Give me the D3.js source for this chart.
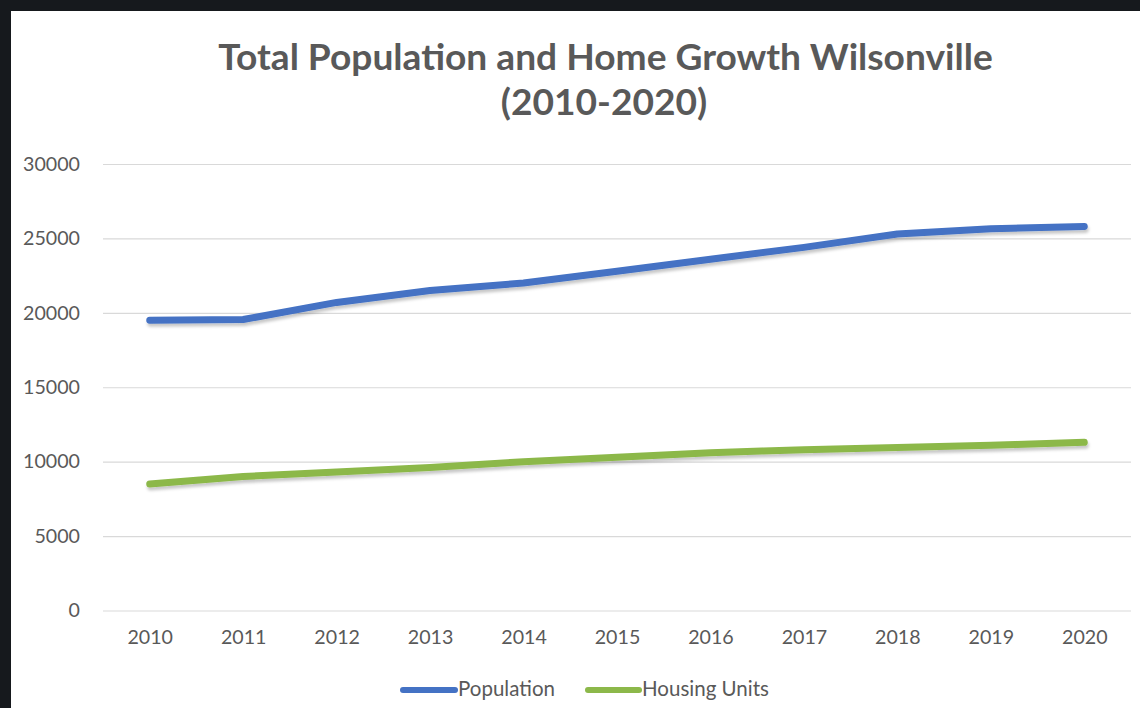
<!DOCTYPE html>
<html>
<head>
<meta charset="utf-8">
<script src="https://cdn.jsdelivr.net/npm/d3@7"></script>
<style>
  html, body { margin: 0; padding: 0; background: #16191d; }
  svg { display: block; }
</style>
</head>
<body>
<svg id="chart" width="1140" height="708"></svg>
<script>
// Wilsonville totals by year
const years = ["2010","2011","2012","2013","2014","2015","2016","2017","2018","2019","2020"];
const population = [19500, 19550, 20700, 21500, 22000, 22800, 23600, 24400, 25300, 25650, 25800];
const housingUnits = [8500, 9000, 9300, 9600, 10000, 10300, 10600, 10800, 10950, 11100, 11300];
const yTicks = [0, 5000, 10000, 15000, 20000, 25000, 30000];
const titleLines = ["Total Population and Home Growth Wilsonville", "(2010-2020)"];
const seriesNames = ["Population", "Housing Units"];

const W = 1140, H = 708;
const FONT = "Lato, 'Open Sans', sans-serif";
const TEXT = "#595959";
const BLUE = "#4472c4";
const GREEN = "#8cb84a";

const svg = d3.select("#chart");

// shadow under the series lines
const defs = svg.append("defs");
const f = defs.append("filter").attr("id", "shadow")
  .attr("x", "-5%").attr("y", "-50%").attr("width", "110%").attr("height", "200%");
f.append("feDropShadow").attr("dx", 1).attr("dy", 3).attr("stdDeviation", 1.6)
  .attr("flood-color", "#000").attr("flood-opacity", 0.22);

// dark surround and white chart panel
svg.append("rect").attr("width", W).attr("height", H).attr("fill", "#16191d");
svg.append("rect").attr("x", 11).attr("y", 11).attr("width", W - 11).attr("height", H - 11).attr("fill", "#ffffff");

// size a text element so that it spans the given width
function fitText(sel, target) {
  sel.attr("font-size", 100);
  const len = sel.node().getComputedTextLength();
  sel.attr("font-size", 100 * target / len);
  return 100 * target / len;
}

const plot = { left: 103, right: 1131, top: 164, bottom: 610.5 };

const x = d3.scalePoint().domain(years).range([plot.left, plot.right]).padding(0.5);
const y = d3.scaleLinear().domain([0, 30000]).range([plot.bottom, plot.top]);

// title
const t1 = svg.append("text").attr("x", 605.5).attr("y", 69.5).attr("text-anchor", "middle")
  .attr("font-family", FONT).attr("font-weight", 700).attr("fill", TEXT).text(titleLines[0]);
const tSize = fitText(t1, 775);
svg.append("text").attr("x", 604).attr("y", 115).attr("text-anchor", "middle")
  .attr("font-family", FONT).attr("font-weight", 700).attr("fill", TEXT)
  .attr("font-size", tSize).text(titleLines[1]);

// gridlines and y labels
const yAxis = d3.axisLeft(y).tickValues(yTicks).tickSize(-(plot.right - plot.left)).tickPadding(23)
  .tickFormat(d3.format("d"));
const gy = svg.append("g").attr("transform", `translate(${plot.left},0)`).call(yAxis);
gy.select(".domain").remove();
gy.selectAll(".tick line").attr("stroke", "#d9d9d9").attr("stroke-width", 1.2);
gy.selectAll(".tick text").attr("fill", TEXT).attr("font-family", FONT);

// measure a label to get the axis font size
const probe = svg.append("text").attr("font-family", FONT).text("30000");
const axisSize = fitText(probe, 57);
probe.remove();
gy.selectAll(".tick text").attr("font-size", axisSize);

// x labels
const xAxis = d3.axisBottom(x).tickSize(0).tickPadding(20);
const gx = svg.append("g").attr("transform", `translate(0,${plot.bottom})`).call(xAxis);
gx.select(".domain").remove();
gx.selectAll(".tick text").attr("fill", TEXT).attr("font-family", FONT).attr("font-size", axisSize);

// series lines
const line = d3.line().x((d, i) => x(years[i])).y(d => y(d));
[[population, BLUE], [housingUnits, GREEN]].forEach(([vals, color]) => {
  svg.append("path").datum(vals).attr("d", line)
    .attr("fill", "none").attr("stroke", color).attr("stroke-width", 7)
    .attr("stroke-linecap", "round").attr("stroke-linejoin", "round")
    .attr("filter", "url(#shadow)");
});

// legend
const legendY = 690;
const legendItems = [
  { name: seriesNames[0], color: BLUE, x0: 400, x1: 458, width: 97 },
  { name: seriesNames[1], color: GREEN, x0: 585, x1: 642, width: 125 }
];
const lp = svg.append("text").attr("font-family", FONT).text(seriesNames[0]);
const legendSize = fitText(lp, 97);
lp.remove();
legendItems.forEach(it => {
  svg.append("line").attr("x1", it.x0 + 3).attr("x2", it.x1 - 3).attr("y1", legendY).attr("y2", legendY)
    .attr("stroke", it.color).attr("stroke-width", 6).attr("stroke-linecap", "round");
  svg.append("text").attr("x", it.x1).attr("y", legendY + 5.5)
    .attr("font-family", FONT).attr("font-size", legendSize).attr("fill", TEXT).text(it.name);
});
</script>
</body>
</html>
